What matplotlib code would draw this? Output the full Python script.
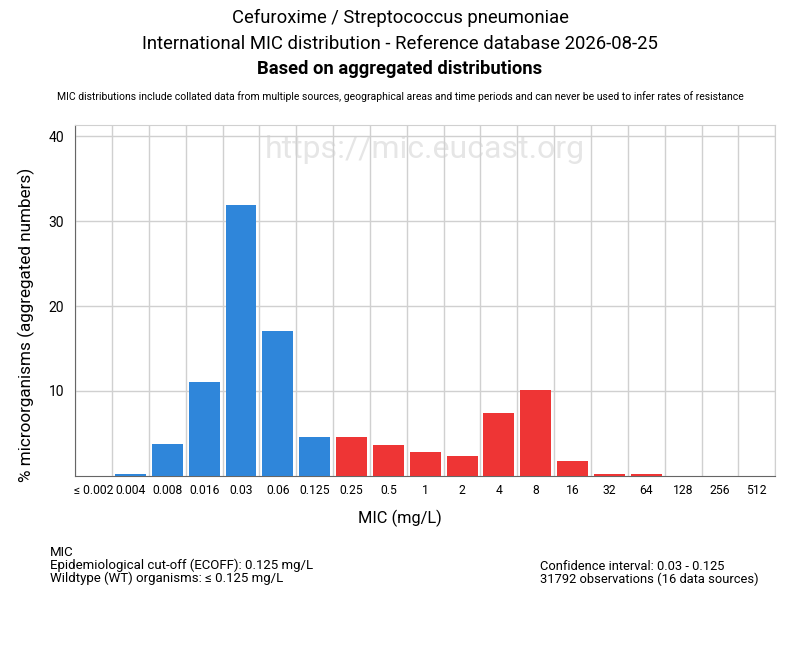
import matplotlib
matplotlib.use("Agg")
import matplotlib.pyplot as plt
import numpy as np

plt.rcParams["font.family"] = ["Roboto", "DejaVu Sans"]

# data
mic_labels = ["≤ 0.002", "0.004", "0.008", "0.016", "0.03", "0.06", "0.125", "0.25", "0.5",
              "1", "2", "4", "8", "16", "32", "64", "128", "256", "512"]
percent = [0.0, 0.2, 3.8, 11.0, 31.9, 17.1, 4.6, 4.6, 3.6,
           2.8, 2.3, 7.4, 10.1, 1.8, 0.2, 0.2, 0.0, 0.0, 0.0]
ecoff_index = 6  # 0.125 mg/L, bars up to here are wildtype

blue = "#2f86da"
red = "#ee3535"

fig = plt.figure(figsize=(8, 6.5), dpi=100)
ax = fig.add_axes([0.094, 0.268, 0.875, 0.539])

x = np.arange(len(mic_labels))
colors = [blue if i <= ecoff_index else red for i in x]
ax.bar(x, percent, width=0.84, color=colors, zorder=3)

ax.set_xlim(-0.5, len(mic_labels) - 0.5)
ax.set_ylim(0, 41.3)
ax.set_yticks([10, 20, 30, 40])
ax.set_xticks(x)
ax.set_xticklabels(mic_labels, fontsize=8.7)
ax.tick_params(axis="y", labelsize=10, length=0, pad=8)
ax.tick_params(axis="x", length=0, pad=6)

# grid at category boundaries
ax.set_xticks(np.arange(-0.5, len(mic_labels)), minor=True)
ax.grid(which="minor", axis="x", color="#d0d0d0", lw=1, zorder=0)
ax.grid(which="major", axis="y", color="#d0d0d0", lw=1, zorder=0)
ax.tick_params(which="minor", length=0)

for s in ["top", "right"]:
    ax.spines[s].set_color("#d0d0d0")
ax.spines["left"].set_color("#666666")
ax.spines["bottom"].set_color("#666666")

# axis titles are centred on the figure, not the axes
fig.text(0.5, 1 - 518 / 650, "MIC (mg/L)", ha="center", va="center", fontsize=11.8)
fig.text(26 / 800, 0.5, "% microorganisms (aggregated numbers)", ha="center", va="center",
         rotation=90, fontsize=12.3)

ax.text(0.5, 0.93, "https://mic.eucast.org", transform=ax.transAxes, ha="center",
        va="center", fontsize=23, color="#e6e6e6", zorder=1)

fig.text(0.5, 1 - 18 / 650, "Cefuroxime / Streptococcus pneumoniae", ha="center", va="center", fontsize=13.2)
fig.text(0.5, 1 - 44 / 650, "International MIC distribution - Reference database 2026-08-25",
         ha="center", va="center", fontsize=13.3)
fig.text(0.5, 1 - 69 / 650, "Based on aggregated distributions", ha="center", va="center",
         fontsize=13.2, fontweight="bold")
fig.text(0.5, 1 - 97 / 650, "MIC distributions include collated data from multiple sources, geographical areas "
         "and time periods and can never be used to infer rates of resistance",
         ha="center", va="center", fontsize=7.5)

fig.text(50 / 800, 1 - 552 / 650, "MIC", va="center", fontsize=9.5)
fig.text(50 / 800, 1 - 565 / 650, "Epidemiological cut-off (ECOFF): 0.125 mg/L", va="center", fontsize=9.5)
fig.text(50 / 800, 1 - 578 / 650, "Wildtype (WT) organisms: ≤ 0.125 mg/L", va="center", fontsize=9.5)
fig.text(540 / 800, 1 - 566 / 650, "Confidence interval: 0.03 - 0.125", va="center", fontsize=9.3)
fig.text(540 / 800, 1 - 579 / 650, "31792 observations (16 data sources)", va="center", fontsize=9.3)

fig.savefig("out.png", dpi=100)
